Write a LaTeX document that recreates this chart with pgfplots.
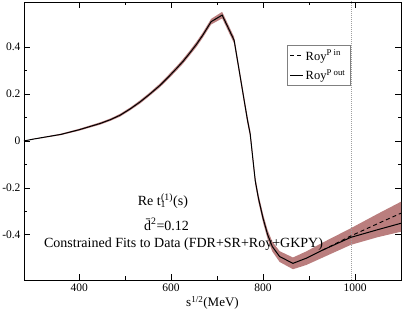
\documentclass[border=0pt]{standalone}
\usepackage{fontspec}
\setmainfont{Liberation Serif}
\usepackage{pgfplots}
\pgfplotsset{compat=1.18}
\usepgfplotslibrary{fillbetween}
\definecolor{bandc}{RGB}{186,126,126}
\begin{document}
\begin{tikzpicture}
\begin{axis}[
  scale only axis, width=377pt, height=278pt,
  xmin=280, xmax=1100, ymin=-0.593, ymax=0.593,
  xtick={400,600,800,1000}, ytick={-0.4,-0.2,0,0.2,0.4},
  minor x tick num=1, minor y tick num=1,
  major tick length=6pt, minor tick length=3.5pt,
  tick style={black, line width=0.6pt},
  axis line style={line width=0.8pt},
  /pgf/number format/assume math mode=true,
  /pgf/number format/1000 sep={},
  yticklabel style={/pgf/number format/fixed, /pgf/number format/precision=1},
  ticklabel style={font=\fontsize{11.5}{13}\selectfont},
  xlabel={s\textsuperscript{1/2}(MeV)},
  xlabel style={font=\fontsize{13}{15}\selectfont, yshift=2pt},
  legend style={at={(0.865,0.845)}, anchor=north east, draw=gray, line width=0.6pt,
    font=\fontsize{12.5}{15}\selectfont, row sep=4pt, inner sep=2.5pt},
  legend image code/.code={\draw[#1] (0pt,0pt) -- (0.45cm,0pt);},
  legend cell align=left,
  clip=true,
]
\addplot[name path=up, draw=none, forget plot] coordinates {
(280,0) (300,0.009) (330,0.020) (360,0.031) (400,0.052) (446,0.080) (468,0.096)
(489,0.116) (511,0.143) (532,0.173) (553,0.206) (575,0.244) (595,0.284) (612,0.319)
(626,0.350) (640,0.384) (655,0.423) (669,0.463) (687,0.521) (711,0.551) (737,0.444)
(766,0.105) (772,0.045) (778,-0.064) (783,-0.154) (790,-0.228) (800,-0.312)
(810,-0.381) (820,-0.429) (836,-0.470) (865,-0.497) (894,-0.471) (930,-0.433)
(991,-0.372) (1050,-0.31) (1100,-0.259)};
\addplot[name path=lo, draw=none, forget plot] coordinates {
(280,0) (300,0.007) (330,0.016) (360,0.025) (400,0.044) (446,0.070) (468,0.086)
(489,0.104) (511,0.131) (532,0.159) (553,0.192) (575,0.228) (595,0.266) (612,0.301)
(626,0.330) (640,0.364) (655,0.401) (669,0.441) (687,0.497) (711,0.523) (737,0.416)
(766,0.075) (772,0.015) (778,-0.096) (783,-0.186) (790,-0.262) (800,-0.348)
(810,-0.419) (820,-0.471) (836,-0.516) (865,-0.547) (894,-0.529) (930,-0.497)
(991,-0.443) (1050,-0.41) (1100,-0.387)};
\addplot[bandc, draw=none, forget plot] fill between[of=up and lo];
\addplot[gray!75, dash pattern=on 1pt off 1pt, line width=0.8pt, forget plot] coordinates {(992,-0.6) (992,0.6)};
\addplot[black, line width=0.9pt, dash pattern=on 4pt off 3pt] coordinates {
(930,-0.465) (991,-0.405) (1050,-0.352) (1100,-0.308)};
\addlegendentry{Roy\textsuperscript{P in}}
\addplot[black, line width=1pt] coordinates {
(280,0) (300,0.008) (330,0.018) (360,0.028) (400,0.048) (446,0.075) (468,0.091)
(489,0.110) (511,0.137) (532,0.166) (553,0.199) (575,0.236) (595,0.275) (612,0.31)
(626,0.34) (640,0.374) (655,0.412) (669,0.452) (687,0.509) (711,0.537)
(737,0.43) (766,0.09) (772,0.03) (778,-0.08) (783,-0.17) (790,-0.245) (800,-0.33)
(810,-0.40) (820,-0.45) (836,-0.493) (865,-0.522) (894,-0.50) (930,-0.465)
(991,-0.411) (1050,-0.378) (1100,-0.351)};
\addlegendentry{Roy\textsuperscript{P out}}
\node[font=\fontsize{14}{16}\selectfont] at (axis cs:582,-0.255) {Re t\textsubscript{\rlap{1}}\textsuperscript{(1)}(s)};
\node[font=\fontsize{14}{16}\selectfont] at (axis cs:590,-0.356) {\={d}\textsuperscript{2}=0.12};
\node[font=\fontsize{14}{16}\selectfont] at (axis cs:627,-0.438) {Constrained Fits to Data (FDR+SR+Roy+GKPY)};
\end{axis}
\pgfresetboundingbox
\useasboundingbox (current axis.south west) ++(-24pt,-32pt) rectangle ++(403pt,312pt);
\end{tikzpicture}
\end{document}
